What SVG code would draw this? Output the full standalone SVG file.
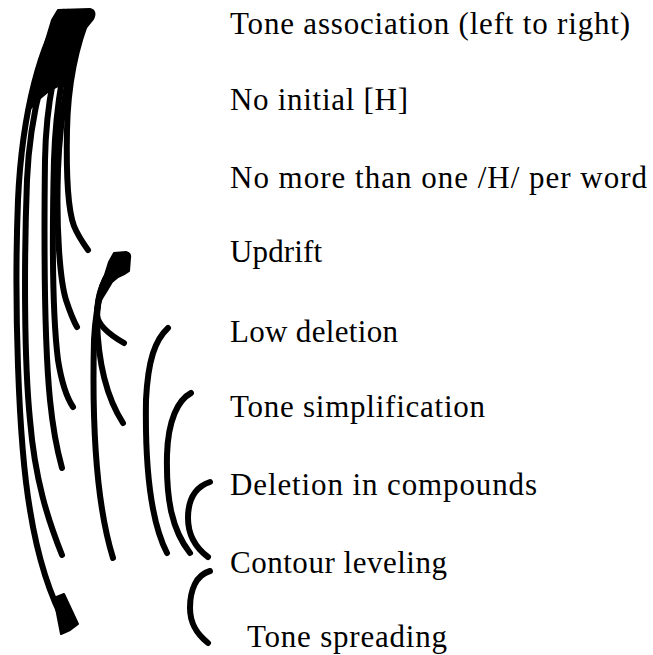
<svg xmlns="http://www.w3.org/2000/svg" width="653" height="655" viewBox="0 0 653 655">
<style>
.c{fill:none;stroke:#000;stroke-width:6;stroke-linecap:round;stroke-linejoin:round}
.t{font-family:"Liberation Serif","Times New Roman",serif;font-size:31px;fill:#000}
.b{fill:#000;stroke:#000;stroke-width:2;stroke-linejoin:round}
</style>
<rect width="653" height="655" fill="#fff"/>
<g id="connectors">
<!-- from Tone association -->
<path class="b" d="M58,10 L90,9 Q97,11 93,19 L80,35 L74,58 L71,82 L62,84 L50,90 L38,100 L31,108 L35,82 L43,50 L52,20 Z"/>
<path class="c" d="M64,12 C42,40 22,110 18,200 C14,300 18,440 30,510 C38,560 52,600 67,627"/>
<polygon class="b" points="54,598 64,594 78,624 70,630 61,634"/>
<path class="c" d="M68,12 C48,50 30,110 27,180 C24,260 24,360 30,420 C35,480 48,520 62,555"/>
<path class="c" d="M74,12 C58,50 46,100 45,160 C44,240 44,340 50,400 C53,430 57,450 62,468"/>
<path class="c" d="M80,12 C66,50 56,100 54,160 C52,240 53,320 58,360 C62,385 67,398 73,407"/>
<path class="c" d="M84,12 C72,50 60,110 58,170 C56,230 60,280 66,300 C70,312 73,320 77,327"/>
<path class="c" d="M90,12 C78,40 68,80 67,130 C66,180 68,210 74,226 C78,236 83,243 88,250"/>
<!-- from Updrift -->
<path class="b" d="M114,253 L126,252 Q131,253 130,258 L129,271 Q124,275 118,277 L112,282 L106,292 L101,300 L104,278 L109,262 Z"/>
<path class="c" d="M118,262 C104,275 97,295 97,315 C98,325 110,335 124,343"/>
<path class="c" d="M118,262 C104,275 97,295 97,320 C98,360 105,395 123,423"/>
<path class="c" d="M118,262 C104,275 96,300 94,340 C92,420 95,500 113,558"/>
<!-- from Low deletion -->
<path class="c" d="M168,328 C155,340 148,360 146,400 C145,460 150,520 167,553"/>
<!-- from Tone simplification -->
<path class="c" d="M191,393 C178,400 168,420 167,455 C166,500 172,530 190,553"/>
<!-- from Deletion in compounds -->
<path class="c" d="M210,482 C195,487 188,500 188,518 C188,535 196,548 208,557"/>
<!-- from Contour leveling -->
<path class="c" d="M210,571 C196,575 190,590 190,608 C190,625 198,635 208,643"/>
</g>
<g id="n1"><text class="t" x="230" y="34" textLength="400" lengthAdjust="spacing">Tone association (left to right)</text></g>
<g id="n2"><text class="t" x="230" y="110" textLength="178" lengthAdjust="spacing">No initial [H]</text></g>
<g id="n3"><text class="t" x="230" y="188" textLength="417" lengthAdjust="spacing">No more than one /H/ per word</text></g>
<g id="n4"><text class="t" x="230" y="262" textLength="92" lengthAdjust="spacing">Updrift</text></g>
<g id="n5"><text class="t" x="230" y="342" textLength="168" lengthAdjust="spacing">Low deletion</text></g>
<g id="n6"><text class="t" x="230" y="417" textLength="255" lengthAdjust="spacing">Tone simplification</text></g>
<g id="n7"><text class="t" x="230" y="495" textLength="307" lengthAdjust="spacing">Deletion in compounds</text></g>
<g id="n8"><text class="t" x="230" y="573" textLength="217" lengthAdjust="spacing">Contour leveling</text></g>
<g id="n9"><text class="t" x="247" y="647" textLength="200" lengthAdjust="spacing">Tone spreading</text></g>
</svg>
